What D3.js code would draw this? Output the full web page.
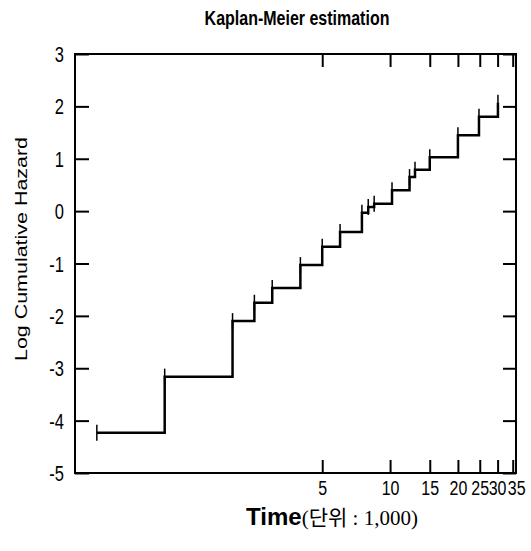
<!DOCTYPE html>
<html>
<head>
<meta charset="utf-8">
<script src="https://cdn.jsdelivr.net/npm/d3@7"></script>
<style>
  body { margin: 0; background: #fff; }
  svg { display: block; }
</style>
</head>
<body>
<div id="chart"></div>
<script>
// step points of the log cumulative hazard (time in 1,000)
const times = [0.5, 1, 2, 2.5, 3, 4, 5, 6, 7.5, 8, 8.5, 10.2, 12.2, 12.9, 15, 20, 24.8, 30.1]
const logHazard = [-4.23, -3.16, -2.10, -1.75, -1.47, -1.03, -0.68, -0.40, -0.03, 0.08, 0.14, 0.40, 0.65, 0.79, 1.03, 1.45, 1.80, 2.07]
const xTicks = [5, 10, 15, 20, 25, 30, 35]
const yTicks = [-5, -4, -3, -2, -1, 0, 1, 2, 3]

const width = 531
const height = 551
const plotLeft = 75, plotRight = 516, plotTop = 54, plotBottom = 473
const stretch = 1.3
const font = '"Liberation Sans", Arial, sans-serif'

const points = times.map((t, i) => ({ t: t, v: logHazard[i] }))

const xScale = d3.scaleLog().domain([0.4, 36.2]).range([plotLeft, plotRight])
const yScale = d3.scaleLinear().domain([-5, 3]).range([plotBottom, plotTop])

const svg = d3.select('#chart')
    .append('svg')
    .attr('width', width)
    .attr('height', height)

// title
svg.append('text')
    .attr('transform', `translate(297, 25) scale(1, ${stretch})`)
    .attr('text-anchor', 'middle')
    .attr('font-family', font)
    .attr('font-weight', 'bold')
    .attr('font-size', 16)
    .text('Kaplan-Meier estimation')

// axes (ticks pointing inwards)
const plain = (d) => String(d)
const xAxis = d3.axisBottom(xScale).tickValues(xTicks).tickSizeInner(-13).tickSizeOuter(0).tickFormat(plain)
const xAxisTop = d3.axisTop(xScale).tickValues(xTicks).tickSizeInner(-13).tickSizeOuter(0).tickFormat('')
const yAxis = d3.axisLeft(yScale).tickValues(yTicks).tickSizeInner(-14).tickSizeOuter(0).tickFormat(plain)
const yAxisRight = d3.axisRight(yScale).tickValues(yTicks).tickSizeInner(-13).tickSizeOuter(0).tickFormat('')

const gx = svg.append('g').attr('transform', `translate(0, ${plotBottom})`).call(xAxis)
svg.append('g').attr('transform', `translate(0, ${plotTop})`).call(xAxisTop)
const gy = svg.append('g').attr('transform', `translate(${plotLeft}, 0)`).call(yAxis)
svg.append('g').attr('transform', `translate(${plotRight}, 0)`).call(yAxisRight)

svg.selectAll('.domain').remove()
svg.selectAll('.tick line').attr('stroke', '#000').attr('stroke-width', 2)

gx.attr('font-family', font).attr('font-size', 16)
gx.selectAll('text')
    .attr('y', 0).attr('dy', null)
    .attr('x', (d) => d === 35 ? 3.5 : (d === 30 ? -0.5 : 0))
    .attr('fill', '#000')
    .attr('transform', `translate(0, 22) scale(1, ${stretch})`)

gy.attr('font-family', font).attr('font-size', 16.5)
gy.selectAll('text')
    .attr('x', 0).attr('dy', null)
    .attr('fill', '#000')
    .attr('transform', `translate(-11, 7.5) scale(1, ${stretch})`)

// frame
svg.append('rect')
    .attr('x', plotLeft).attr('y', plotTop)
    .attr('width', plotRight - plotLeft).attr('height', plotBottom - plotTop)
    .attr('fill', 'none')
    .attr('stroke', '#000')
    .attr('stroke-width', 2)

// step curve
const line = d3.line()
    .x((d) => xScale(d.t))
    .y((d) => yScale(d.v))
    .curve(d3.curveStepAfter)

svg.append('path')
    .datum(points)
    .attr('d', line)
    .attr('fill', 'none')
    .attr('stroke', '#000')
    .attr('stroke-width', 2.5)

// marks at each step
svg.selectAll('.mark')
    .data(points)
    .enter()
    .append('line')
    .attr('class', 'mark')
    .attr('x1', (d) => xScale(d.t))
    .attr('x2', (d) => xScale(d.t))
    .attr('y1', (d) => yScale(d.v) - 8)
    .attr('y2', (d) => yScale(d.v) + 8)
    .attr('stroke', '#000')
    .attr('stroke-width', 1.5)

// axis titles
svg.append('text')
    .attr('transform', `translate(27, 249) rotate(-90) scale(${stretch}, 1)`)
    .attr('text-anchor', 'middle')
    .attr('font-family', font)
    .attr('font-size', 16.5)
    .text('Log Cumulative Hazard')

const xTitle = svg.append('text')
    .attr('x', 332)
    .attr('y', 525)
    .attr('text-anchor', 'middle')
xTitle.append('tspan')
    .attr('font-family', font)
    .attr('font-weight', 'bold')
    .attr('font-size', 24)
    .text('Time')
xTitle.append('tspan')
    .attr('font-family', '"Liberation Serif", "Noto Sans CJK KR", serif')
    .attr('font-size', 21)
    .text('(단위 : 1,000)')
</script>
</body>
</html>
